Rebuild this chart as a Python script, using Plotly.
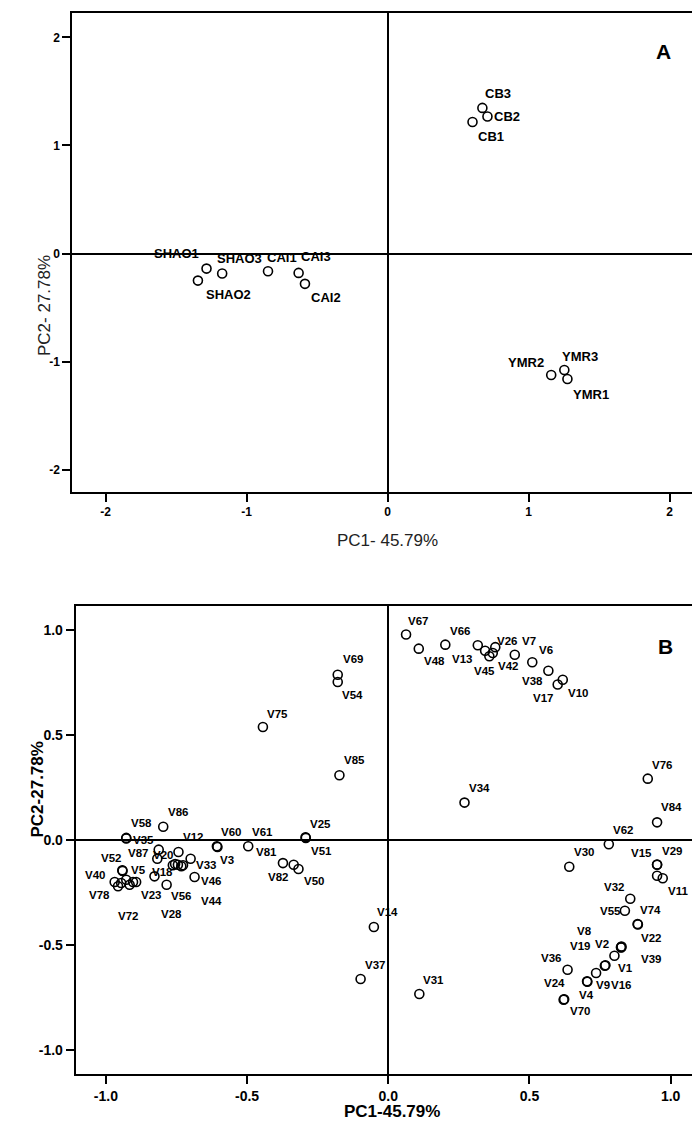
import plotly.graph_objects as go

# ---------------- Panel A data (samples) ----------------
a_names = ["CB3", "CB2", "CB1", "SHAO1", "SHAO2", "SHAO3",
           "CAI1", "CAI3", "CAI2", "YMR2", "YMR3", "YMR1"]
a_pc1 = [0.672, 0.708, 0.602, -1.284, -1.345, -1.173,
         -0.848, -0.631, -0.586, 1.160, 1.253, 1.275]
a_pc2 = [1.347, 1.267, 1.217, -0.139, -0.250, -0.185,
         -0.163, -0.179, -0.280, -1.123, -1.077, -1.160]
a_ticks = [-2, -1, 0, 1, 2]
a_ticktext = ["-2", "-1", "0", "1", "2"]

# ---------------- Panel B data (variables) ----------------
b_names = ["V67", "V48", "V66", "V13", "", "V45", "V42", "V26", "V7", "V6",
           "V38", "V10", "V17", "V69", "V54", "V75", "V85", "V86", "V58", "V35",
           "V12", "V60", "V3", "V61", "V81", "V82", "V50", "V25", "V51", "V20",
           "V87", "V33", "V52", "V5", "V18", "V40", "V78", "V23", "V72", "V56",
           "V28", "V44", "V46", "", "", "", "", "", "",
           "V34", "V76", "V84", "V62", "V30", "V15", "V29", "", "V11",
           "V14", "V37", "V31", "V32", "V55", "V74", "V22", "V8", "V2", "V39",
           "V19", "V1", "", "V16", "V9", "V4", "V36", "V24", "V70"]
b_pc1 = [0.063, 0.108, 0.202, 0.317, 0.343, 0.358, 0.370, 0.379, 0.448, 0.510,
         0.567, 0.618, 0.600, -0.179, -0.179, -0.444, -0.173, -0.797, -0.928, -0.928,
         -0.743, -0.607, -0.605, -0.496, -0.373, -0.335, -0.318, -0.293, -0.292, -0.813,
         -0.818, -0.700, -0.942, -0.941, -0.828, -0.969, -0.957, -0.904, -0.916, -0.785,
         -0.745, -0.733, -0.686, -0.763, -0.755, -0.727, -0.928, -0.893, -0.946,
         0.270, 0.919, 0.952, 0.781, 0.641, 0.952, 0.952, 0.952, 0.972,
         -0.051, -0.098, 0.110, 0.857, 0.838, 0.883, 0.884, 0.824, 0.826, 0.825,
         0.801, 0.767, 0.769, 0.736, 0.704, 0.705, 0.635, 0.621, 0.623]
b_pc2 = [0.978, 0.911, 0.930, 0.927, 0.901, 0.875, 0.890, 0.918, 0.882, 0.846,
         0.806, 0.763, 0.740, 0.787, 0.752, 0.538, 0.308, 0.063, 0.010, 0.007,
         -0.057, -0.030, -0.033, -0.030, -0.110, -0.118, -0.138, 0.013, 0.010, -0.046,
         -0.089, -0.089, -0.144, -0.147, -0.173, -0.200, -0.220, -0.200, -0.213, -0.213,
         -0.118, -0.125, -0.176, -0.120, -0.114, -0.120, -0.189, -0.200, -0.205,
         0.178, 0.292, 0.084, -0.020, -0.127, -0.118, -0.117, -0.170, -0.182,
         -0.414, -0.662, -0.733, -0.280, -0.337, -0.400, -0.402, -0.510, -0.507, -0.512,
         -0.551, -0.599, -0.596, -0.633, -0.673, -0.675, -0.618, -0.760, -0.758]
b_ticks = [-1.0, -0.5, 0.0, 0.5, 1.0]
b_ticktext = ["-1.0", "-0.5", "0.0", "0.5", "1.0"]

# ---------------- label offsets (pixels, styling only) ----------------
a_dx = [16, 20, 18, -30, 31, 17, 14, 17, 21, -25, 16, 24]
a_dy = [-14.3, 0, 14.3, -15, 14, -15, -14, -16, 14, -12.7, -13.3, 16]

b_dx = [11.7, 15.7, 15, -15.7, 0, -5, 15, 12, 14.7, 13.7,
        -15.7, 15, -15, 15, 15, 14.3, 15, 14.7, 15, 17,
        14.3, 14.3, 9.3, 14.7, -16.7, -16, 16, 14.7, 15.7, 4,
        -19, 15.7, -11, 16, 8, -20, -18.3, 18.3, -1.7, 14.7,
        -6.7, 30, 16.7, 0, 0, 0, 0, 0, 0,
        15, 14, 14, 14, 14.3, -16, 14.7, 0, 15,
        14, 14, 14, -16.7, -14, 13.3, 13.3, -36.7, -20, 30,
        -34, 21, 0, 25, 15.7, -1, -16.7, -9.3, 15.7]
b_dy = [-14, 12, -14, 13.7, 0, 15, 13.3, -6, -13.3, -12.7,
        10, 13.3, 13.3, -15.7, 12.7, -13.3, -15, -14.3, -15, 1,
        -14.7, -14.3, 13.3, -14, -11, 12.7, 12.3, -13.7, 13.3, 5,
        -5.7, 6, -12.3, -1, -4, -7.3, 9, 12.7, 31.6, 11.7,
        49.3, 34.4, 4.3, 0, 0, 0, 0, 0, 0,
        -14.7, -14, -15, -14, -14.7, -11.7, -14, 0, 13,
        -15, -14.3, -14.3, -12.3, 0.7, -14.3, 14, -15.7, -3, 11.7,
        -9.3, 1.7, 0, 12.3, 4, 13.3, -11.7, -16.7, 11.7]

W, H = 700, 1127
FONT = "Liberation Sans, Arial, sans-serif"

def px(x):
    return x / W

def py(y):
    return 1 - y / H

marker = dict(symbol="circle-open", size=9, color="black", line=dict(width=1.6, color="black"))

fig = go.Figure()
fig.add_trace(go.Scatter(x=a_pc1, y=a_pc2, mode="markers", marker=marker,
                         text=a_names, hoverinfo="text", showlegend=False,
                         xaxis="x", yaxis="y"))
fig.add_trace(go.Scatter(x=b_pc1, y=b_pc2, mode="markers", marker=marker,
                         text=b_names, hoverinfo="text", showlegend=False,
                         xaxis="x2", yaxis="y2"))

annotations = []
for n, x, y, dx, dy in zip(a_names, a_pc1, a_pc2, a_dx, a_dy):
    annotations.append(dict(x=x, y=y, xref="x", yref="y", text=n, showarrow=False,
                            xshift=dx, yshift=-dy, xanchor="center", yanchor="middle",
                            font=dict(family=FONT, size=13, color="black", weight="bold")))
for n, x, y, dx, dy in zip(b_names, b_pc1, b_pc2, b_dx, b_dy):
    if not n:
        continue
    annotations.append(dict(x=x, y=y, xref="x2", yref="y2", text=n, showarrow=False,
                            xshift=dx, yshift=-dy, xanchor="center", yanchor="middle",
                            font=dict(family=FONT, size=11.5, color="black", weight="bold")))

# panel letters
annotations.append(dict(x=1.957, y=1.87, xref="x", yref="y", text="A", showarrow=False,
                        font=dict(family=FONT, size=21, color="black", weight="bold")))
annotations.append(dict(x=0.981, y=0.922, xref="x2", yref="y2", text="B", showarrow=False,
                        font=dict(family=FONT, size=21, color="black", weight="bold")))

# axis titles
annotations += [
    dict(x=px(25), y=py(245), xref="paper", yref="paper", text="PC2- 27.78%", textangle=-90,
         showarrow=False, font=dict(family=FONT, size=17, color="#222")),
    dict(x=px(379), y=py(532), xref="paper", yref="paper", text="PC1- 45.79%",
         showarrow=False, font=dict(family=FONT, size=17, color="#222")),
    dict(x=px(17), y=py(832), xref="paper", yref="paper", text="PC2-27.78%", textangle=-90,
         showarrow=False, font=dict(family=FONT, size=17, color="black", weight="bold")),
    dict(x=px(384), y=py(1115), xref="paper", yref="paper", text="PC1-45.79%",
         showarrow=False, font=dict(family=FONT, size=17, color="black", weight="bold")),
]

def axis(domain, rng, tv, tt, anchor, fsize):
    return dict(domain=domain, range=rng, tickmode="array", tickvals=tv, ticktext=tt,
                showline=True, mirror=True, linecolor="black", linewidth=2,
                ticks="outside", ticklen=8, tickwidth=1.5, tickcolor="black",
                showgrid=False, zeroline=True, zerolinecolor="black", zerolinewidth=1.5,
                anchor=anchor, fixedrange=True,
                tickfont=dict(family=FONT, size=fsize, color="black", weight="bold"))

fig.update_layout(
    width=W, height=H, margin=dict(l=0, r=0, t=0, b=0),
    paper_bgcolor="white", plot_bgcolor="white", showlegend=False,
    xaxis=axis([px(64.4), px(692)], [-2.235, 2.215], a_ticks, a_ticktext, "y", 12),
    yaxis=axis([py(484), py(5.3)], [-2.205, 2.222], a_ticks, a_ticktext, "x", 12),
    xaxis2=axis([px(67.7), px(692)], [-1.107, 1.104], b_ticks, b_ticktext, "y2", 14),
    yaxis2=axis([py(1066), py(598)], [-1.114, 1.114], b_ticks, b_ticktext, "x2", 14),
    annotations=annotations,
)

fig.write_html("out.html")
